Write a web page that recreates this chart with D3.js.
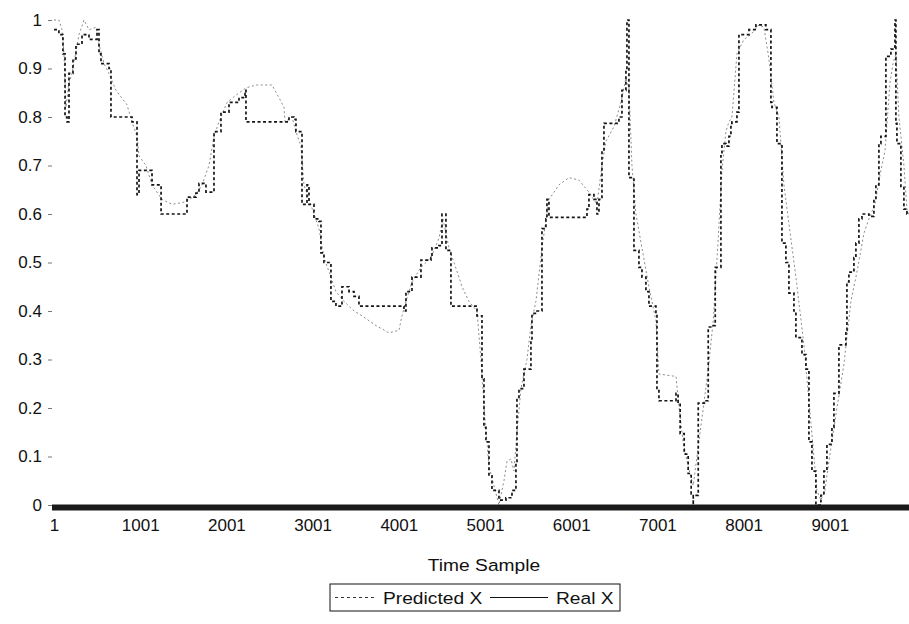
<!DOCTYPE html>
<html>
<head>
<meta charset="utf-8">
<script src="https://cdn.jsdelivr.net/npm/d3@7"></script>
<style>
  html, body { margin: 0; padding: 0; background: #fff; }
  svg { display: block; font-family: "Liberation Sans", Arial, sans-serif; }
</style>
</head>
<body>
<svg id="chart" width="909" height="624"></svg>
<script>
// Real trajectory: sample index and X value
const realSamples = [1,58,105,129,152,175,221,256,326,407,442,500,523,546,639,662,662,906,964,964,987,1126,1138,1231,1243,1544,1544,1648,1683,1764,1845,1857,1938,2031,2147,2217,2228,2669,2727,2785,2808,2866,2878,2936,2959,3017,3075,3098,3133,3214,3214,3272,3330,3342,3423,3481,3539,4038,4061,4084,4154,4258,4374,4386,4467,4502,4548,4606,4606,4850,4908,4931,4966,4989,5012,5047,5082,5163,5244,5314,5360,5372,5395,5453,5534,5546,5604,5662,5662,5708,5720,5743,6172,6184,6207,6265,6300,6323,6358,6381,6520,6555,6590,6636,6648,6671,6729,6787,6822,6868,6903,6984,6996,7019,7170,7217,7241,7265,7312,7358,7393,7417,7417,7440,7475,7556,7591,7591,7649,7672,7738,7738,7750,7796,7831,7854,7866,7924,7947,8063,8144,8214,8260,8318,8330,8388,8446,8446,8492,8527,8585,8608,8678,8724,8759,8759,8794,8840,8898,8933,8968,9026,9049,9107,9188,9200,9223,9281,9304,9339,9374,9455,9513,9536,9571,9594,9652,9710,9722,9757,9768,9780,9826,9861,9896,9942];
const realValues = [0.98,0.97,0.93,0.80,0.79,0.89,0.92,0.95,0.97,0.96,0.96,0.98,0.93,0.91,0.90,0.90,0.80,0.79,0.78,0.64,0.69,0.69,0.66,0.66,0.60,0.60,0.635,0.643,0.663,0.645,0.645,0.77,0.81,0.83,0.84,0.855,0.79,0.79,0.80,0.795,0.77,0.77,0.62,0.66,0.62,0.59,0.585,0.52,0.50,0.50,0.42,0.41,0.41,0.45,0.44,0.43,0.41,0.41,0.40,0.44,0.47,0.505,0.51,0.53,0.535,0.60,0.525,0.505,0.41,0.41,0.39,0.39,0.26,0.16,0.13,0.06,0.03,0.01,0.015,0.03,0.09,0.22,0.24,0.28,0.34,0.395,0.40,0.40,0.57,0.59,0.63,0.593,0.593,0.61,0.64,0.63,0.60,0.63,0.73,0.787,0.787,0.80,0.855,0.90,1.0,0.675,0.525,0.49,0.47,0.44,0.41,0.395,0.236,0.215,0.215,0.23,0.21,0.147,0.105,0.065,0.023,0.0,0.02,0.02,0.21,0.215,0.23,0.367,0.37,0.49,0.50,0.72,0.745,0.74,0.76,0.787,0.79,0.81,0.97,0.98,0.99,0.99,0.98,0.83,0.82,0.745,0.675,0.54,0.50,0.437,0.40,0.345,0.31,0.28,0.22,0.13,0.07,0.0,0.02,0.07,0.125,0.16,0.23,0.33,0.36,0.46,0.48,0.51,0.54,0.59,0.60,0.595,0.63,0.66,0.745,0.76,0.925,0.94,0.94,1.0,0.787,0.745,0.655,0.61,0.60];

// Predicted trajectory: sample index and X value
const predSamples = [1,58,94,117,140,175,210,291,349,407,488,523,581,639,720,848,906,964,987,1068,1138,1254,1370,1532,1648,1718,1799,1857,1915,2008,2112,2228,2344,2530,2611,2669,2681,2762,2808,2866,2901,2959,3017,3075,3133,3214,3272,3365,3481,3574,3736,3887,4003,4038,4084,4154,4258,4374,4467,4513,4583,4699,4734,4815,4908,4954,5000,5047,5105,5163,5221,5256,5302,5337,5372,5418,5488,5534,5592,5662,5743,5859,5975,6091,6207,6300,6358,6404,6497,6578,6636,6671,6706,6752,6822,6903,6984,7019,7217,7241,7299,7358,7417,7475,7533,7591,7649,7707,7750,7796,7831,7866,7924,8005,8086,8179,8237,8295,8353,8411,8469,8527,8608,8701,8782,8851,8898,8945,8991,9084,9165,9246,9316,9397,9455,9525,9583,9641,9699,9734,9768,9803,9861,9896,9942];
const predValues = [1.0,1.0,0.98,0.93,0.82,0.87,0.89,0.97,1.0,0.98,0.985,0.95,0.91,0.89,0.855,0.825,0.79,0.76,0.72,0.70,0.66,0.63,0.62,0.625,0.64,0.66,0.70,0.76,0.79,0.83,0.845,0.86,0.866,0.866,0.84,0.82,0.79,0.80,0.77,0.74,0.66,0.63,0.60,0.57,0.51,0.47,0.44,0.42,0.40,0.39,0.37,0.355,0.36,0.39,0.42,0.46,0.49,0.51,0.55,0.59,0.53,0.47,0.45,0.42,0.40,0.30,0.18,0.08,0.04,0.0,0.05,0.09,0.095,0.07,0.15,0.24,0.30,0.37,0.42,0.53,0.63,0.66,0.675,0.67,0.645,0.62,0.70,0.75,0.78,0.83,0.88,0.86,0.70,0.60,0.53,0.45,0.38,0.27,0.265,0.22,0.13,0.08,0.04,0.12,0.20,0.28,0.38,0.55,0.69,0.77,0.79,0.80,0.93,0.96,0.97,0.99,0.985,0.92,0.83,0.80,0.66,0.58,0.47,0.33,0.17,0.03,0.01,0.03,0.09,0.20,0.29,0.42,0.48,0.56,0.59,0.62,0.68,0.73,0.87,0.91,0.93,0.80,0.70,0.61,0.59];

const yTicks = [0, 0.1, 0.2, 0.3, 0.4, 0.5, 0.6, 0.7, 0.8, 0.9, 1];
const yTickLabels = ["0", "0.1", "0.2", "0.3", "0.4", "0.5", "0.6", "0.7", "0.8", "0.9", "1"];
const xTicks = [1, 1001, 2001, 3001, 4001, 5001, 6001, 7001, 8001, 9001];
const xTitle = "Time Sample";
const seriesNames = ["Predicted X", "Real X"];

const FONT = "'Liberation Sans', Arial, sans-serif";
const svg = d3.select("#chart");

const x = d3.scaleLinear().domain([1, 10000]).range([54, 915.9]);
const y = d3.scaleLinear().domain([0, 1]).range([505, 20]);

// clip the plotting area to the right edge of the frame
svg.append("defs").append("clipPath").attr("id", "plot-clip")
  .append("rect").attr("x", 50).attr("y", 0).attr("width", 859).attr("height", 508);

// y axis: small ticks, right-aligned labels, no domain line
const yAxis = svg.append("g")
  .attr("transform", "translate(52,0)")
  .call(d3.axisLeft(y).tickValues(yTicks).tickSize(4).tickPadding(6)
    .tickFormat((d, i) => yTickLabels[i]));
yAxis.select(".domain").remove();
yAxis.selectAll(".tick line").attr("stroke", "#777");
yAxis.selectAll(".tick text")
  .attr("font-size", 17).attr("fill", "#111").attr("font-family", FONT);

// x axis: labels only, under the heavy baseline bar
const xAxis = svg.append("g")
  .attr("transform", "translate(0,510)")
  .call(d3.axisBottom(x).tickValues(xTicks).tickSize(0).tickPadding(9)
    .tickFormat(d3.format("d")));
xAxis.select(".domain").remove();
xAxis.selectAll(".tick text")
  .attr("font-size", 17).attr("fill", "#111").attr("font-family", FONT);

const plot = svg.append("g").attr("clip-path", "url(#plot-clip)");

const predLine = d3.line().x(d => x(d[0])).y(d => y(d[1]));
// the real signal is held between samples, so it is drawn as a staircase
const realLine = d3.line().x(d => x(d[0])).y(d => y(d[1])).curve(d3.curveStepAfter);

const predData = predSamples.map((s, i) => [s, predValues[i]]);
const realData = realSamples.map((s, i) => [s, realValues[i]]);

plot.append("path")
  .datum(predData)
  .attr("d", predLine)
  .attr("fill", "none")
  .attr("stroke", "#8a8a8a")
  .attr("stroke-width", 1)
  .attr("stroke-dasharray", "2,2.5");

plot.append("path")
  .datum(realData)
  .attr("d", realLine)
  .attr("fill", "none")
  .attr("stroke", "#151515")
  .attr("stroke-width", 1.7)
  .attr("stroke-dasharray", "3,2.5");

// heavy baseline bar along value 0
svg.append("rect")
  .attr("x", 52).attr("y", y(0) - 0.5)
  .attr("width", 909 - 52).attr("height", 6)
  .attr("fill", "#1a1a1a");

// axis title (slightly wide face)
svg.append("text")
  .attr("transform", "translate(484,571) scale(1.13,1)")
  .attr("text-anchor", "middle")
  .attr("font-size", 17).attr("fill", "#111")
  .text(xTitle);

// legend
const legend = svg.append("g").attr("transform", "translate(330,584)");
legend.append("rect")
  .attr("x", 0).attr("y", 0).attr("width", 290).attr("height", 27)
  .attr("fill", "#fff").attr("stroke", "#111").attr("stroke-width", 1);
legend.append("line")
  .attr("x1", 5).attr("x2", 46).attr("y1", 13.5).attr("y2", 13.5)
  .attr("stroke", "#333").attr("stroke-width", 1).attr("stroke-dasharray", "3,3");
legend.append("text")
  .attr("transform", "translate(53,19.5) scale(1.13,1)")
  .attr("font-size", 17).attr("fill", "#111")
  .text(seriesNames[0]);
legend.append("line")
  .attr("x1", 160).attr("x2", 218).attr("y1", 13.5).attr("y2", 13.5)
  .attr("stroke", "#111").attr("stroke-width", 1);
legend.append("text")
  .attr("transform", "translate(226,19.5) scale(1.13,1)")
  .attr("font-size", 17).attr("fill", "#111")
  .text(seriesNames[1]);
</script>
</body>
</html>
